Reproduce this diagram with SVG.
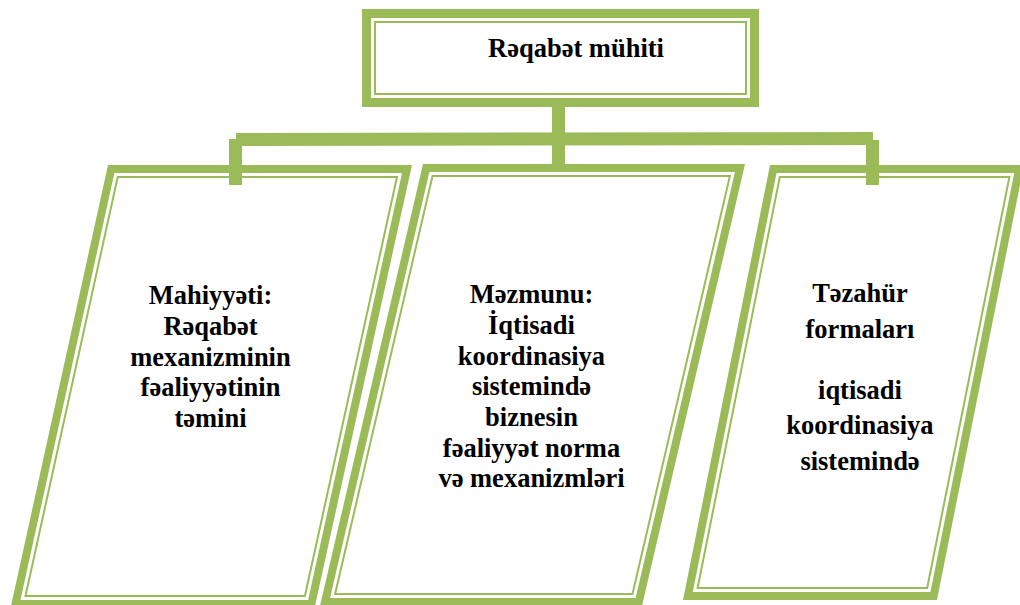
<svg xmlns="http://www.w3.org/2000/svg" width="1020" height="605" viewBox="0 0 1020 605">
<style>
.thick{fill:none;stroke:#9bbb59;stroke-width:8;stroke-linejoin:miter}
.thin{fill:none;stroke:#9bbb59;stroke-width:2;stroke-linejoin:miter}
.conn{fill:#9bbb59}
.lbl{font-family:'Liberation Serif',Tinos,'DejaVu Serif',serif;font-weight:700;font-size:26.5px;fill:#000;text-anchor:middle}
</style>
<rect width="1020" height="605" fill="#ffffff"/>
<g id="connectors">
<rect class="conn" x="552" y="105" width="13" height="61"/>
<polygon class="conn" points="236,133 873,132 873,145 236,146"/>
<rect class="conn" x="229" y="139" width="13" height="46"/>
<rect class="conn" x="866" y="140" width="13" height="45"/>
</g>
<g id="top">
<rect class="thick" x="366.5" y="13.5" width="388" height="89" style="stroke-width:9"/>
<rect class="thin" x="375" y="22" width="371" height="72"/>
<text class="lbl" font-family="Liberation Serif, serif" x="576" y="57">Rəqabət mühiti</text>
</g>
<g id="left">
<polygon class="thick" points="111.2,169 407,169 311.3,604 15.5,604"/>
<polygon class="thin" points="117.7,177 397,177 304.9,596 25.5,596"/>
<g class="lbl" font-family="Liberation Serif, serif">
<text x="210.5" y="304">Mahiyyəti:</text>
<text x="210.5" y="335">Rəqabət</text>
<text x="210.5" y="365.5">mexanizminin</text>
<text x="210.5" y="396">fəaliyyətinin</text>
<text x="210.5" y="427">təmini</text>
</g>
</g>
<g id="middle">
<polygon class="thick" points="426.2,168 740,168 638.8,602 325,602"/>
<polygon class="thin" points="432.5,176 729.9,176 632.5,594 335.1,594"/>
<g class="lbl" font-family="Liberation Serif, serif">
<text x="531.5" y="303">Məzmunu:</text>
<text x="531.5" y="334">İqtisadi</text>
<text x="531.5" y="364.5">koordinasiya</text>
<text x="531.5" y="395">sistemində</text>
<text x="531.5" y="426">biznesin</text>
<text x="531.5" y="456.5">fəaliyyət norma</text>
<text x="531.5" y="487">və mexanizmləri</text>
</g>
</g>
<g id="right">
<polygon class="thick" points="773.3,169 1019.1,169 933.7,596 687.9,596"/>
<polygon class="thin" points="779.8,177 1009.4,177 927.2,588 697.6,588"/>
<g class="lbl" font-family="Liberation Serif, serif">
<text x="860" y="302">Təzahür</text>
<text x="860" y="337.5">formaları</text>
<text x="860" y="398.5">iqtisadi</text>
<text x="860" y="434">koordinasiya</text>
<text x="860" y="469.5">sistemində</text>
</g>
</g>
</svg>
